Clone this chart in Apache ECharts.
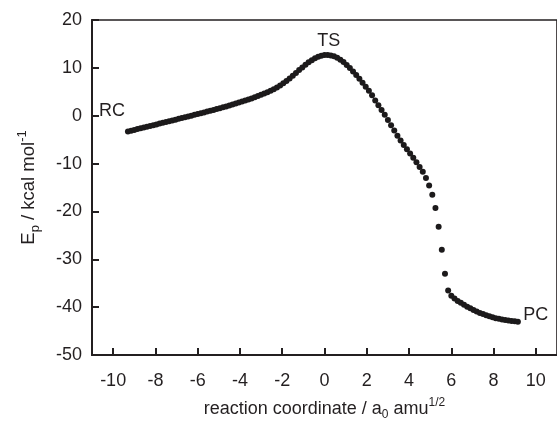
<!DOCTYPE html>
<html>
<head>
<meta charset="utf-8">
<script src="https://cdn.jsdelivr.net/npm/echarts@6/dist/echarts.min.js"></script>
<style>html,body{margin:0;padding:0;background:#fff;}#c{width:557px;height:426px;}</style>
</head>
<body>
<div id="c"></div>
<script>
// reaction coordinate (a0 amu^1/2)
const xs = [
  -9.3,-9.15,-9.0,-8.85,-8.7,-8.55,-8.4,-8.25,-8.1,-7.95,-7.8,-7.65,-7.5,-7.35,-7.2,-7.05,-6.9,-6.75,-6.6,-6.45,
  -6.3,-6.15,-6.0,-5.85,-5.7,-5.55,-5.4,-5.25,-5.1,-4.95,-4.8,-4.65,-4.5,-4.35,-4.2,-4.05,-3.9,-3.75,-3.6,-3.45,
  -3.3,-3.15,-3.0,-2.85,-2.7,-2.55,-2.4,-2.25,-2.1,
  -1.95,-1.8,-1.65,-1.5,-1.35,-1.2,-1.05,-0.9,-0.75,-0.6,-0.45,-0.3,-0.15,0,
  0.15,0.3,0.45,0.6,0.75,0.9,1.05,1.2,1.35,1.5,1.65,1.8,1.95,2.1,2.25,2.4,2.55,2.7,2.85,3.0,
  3.15,3.3,3.45,3.6,3.75,3.9,4.05,4.2,4.35,4.5,4.65,4.8,4.95,5.1,5.25,5.4,5.55,5.7,5.85,6.0,
  6.15,6.3,6.45,6.6,6.75,6.9,7.05,7.2,7.35,7.5,7.65,7.8,7.95,8.1,8.25,8.4,8.55,8.7,8.85,9.0,9.15
];
// potential energy Ep (kcal/mol)
const ep = [
  -3.30,-3.13,-2.97,-2.80,-2.64,-2.47,-2.31,-2.14,-1.98,-1.81,-1.64,-1.48,-1.31,-1.15,-0.98,-0.82,-0.65,-0.49,-0.32,-0.15,
  0.01,0.18,0.35,0.52,0.69,0.86,1.04,1.21,1.39,1.57,1.76,1.95,2.14,2.34,2.54,2.74,2.95,3.17,3.39,3.62,
  3.86,4.10,4.36,4.63,4.92,5.22,5.55,5.92,6.33,
  6.78,7.27,7.8,8.37,8.95,9.55,10.1,10.65,11.15,11.6,12.0,12.3,12.55,12.7,
  12.7,12.6,12.4,12.1,11.7,11.2,10.6,9.95,9.25,8.5,7.7,6.9,6.05,5.2,4.3,3.2,2.2,1.2,0.2,-0.9,
  -2.0,-3.1,-4.2,-5.2,-6.1,-7.0,-7.9,-8.8,-9.7,-10.7,-11.7,-13.0,-14.6,-16.5,-19.3,-23.2,-28.0,-33.0,-36.5,-37.6,
  -38.2,-38.7,-39.1,-39.5,-39.9,-40.25,-40.6,-40.9,-41.2,-41.45,-41.7,-41.9,-42.1,-42.3,-42.45,-42.6,-42.7,-42.8,-42.9,-42.95,-43.05
];
const xTicks = [-10,-8,-6,-4,-2,0,2,4,6,8,10];
const labelNames = ['RC','TS','PC'];
const labelX = [-10.05, 0.2, 10.0];
const labelY = [1.0, 15.6, -41.6];

const points = xs.map((x, i) => [x, ep[i]]);
const labelData = labelNames.map((n, i) => ({ value: [labelX[i], labelY[i]], name: n }));

const FONT = '"Liberation Sans", Arial, sans-serif';
const INK = '#231f20';

const chart = echarts.init(document.getElementById('c'), null, { renderer: 'canvas' });
chart.setOption({
  animation: false,
  backgroundColor: '#ffffff',
  grid: { left: 92, top: 20, right: -8, bottom: 65, show: true, borderColor: INK, borderWidth: 1.6, backgroundColor: 'transparent' },
  xAxis: {
    type: 'value', min: -11, max: 11,
    axisLine: { show: true, onZero: false, lineStyle: { color: INK, width: 2 } },
    axisTick: { show: true, inside: true, length: 7, customValues: xTicks, lineStyle: { color: INK, width: 2 } },
    axisLabel: { customValues: xTicks, fontFamily: FONT, fontSize: 18, color: INK, margin: 17 },
    splitLine: { show: false },
    name: '{m|reaction coordinate / a}{sub|0}{m| amu}{sup|1/2}',
    nameLocation: 'middle', nameGap: 42,
    nameTextStyle: {
      fontFamily: FONT, color: INK,
      rich: {
        m: { fontFamily: FONT, fontSize: 18, color: INK, lineHeight: 24 },
        sub: { fontFamily: FONT, fontSize: 12, color: INK, lineHeight: 12, verticalAlign: 'bottom' },
        sup: { fontFamily: FONT, fontSize: 12, color: INK, lineHeight: 12, verticalAlign: 'top' }
      }
    }
  },
  yAxis: {
    type: 'value', min: -50, max: 20, interval: 10,
    axisLine: { show: true, onZero: false, lineStyle: { color: INK, width: 2 } },
    axisTick: { show: true, inside: true, length: 7, lineStyle: { color: INK, width: 2 } },
    axisLabel: { fontFamily: FONT, fontSize: 18, color: INK, margin: 10 },
    splitLine: { show: false },
    name: '{m|E}{sub|p}{m| / kcal mol}{sup|-1}',
    nameLocation: 'middle', nameGap: 50, nameRotate: 90,
    nameTextStyle: {
      fontFamily: FONT, color: INK,
      rich: {
        m: { fontFamily: FONT, fontSize: 18.5, color: INK, lineHeight: 26 },
        sub: { fontFamily: FONT, fontSize: 13, color: INK, lineHeight: 13, verticalAlign: 'bottom' },
        sup: { fontFamily: FONT, fontSize: 13, color: INK, lineHeight: 13, verticalAlign: 'top' }
      }
    }
  },
  series: [
    {
      type: 'scatter', data: points, symbol: 'circle', symbolSize: 6,
      itemStyle: { color: '#1c1a1b', opacity: 1 }, silent: true
    },
    {
      type: 'scatter', data: labelData, symbolSize: 0, silent: true,
      itemStyle: { opacity: 1 },
      label: { show: true, position: 'inside', formatter: '{b}', fontFamily: FONT, fontSize: 18, color: INK }
    }
  ]
});
</script>
</body>
</html>
